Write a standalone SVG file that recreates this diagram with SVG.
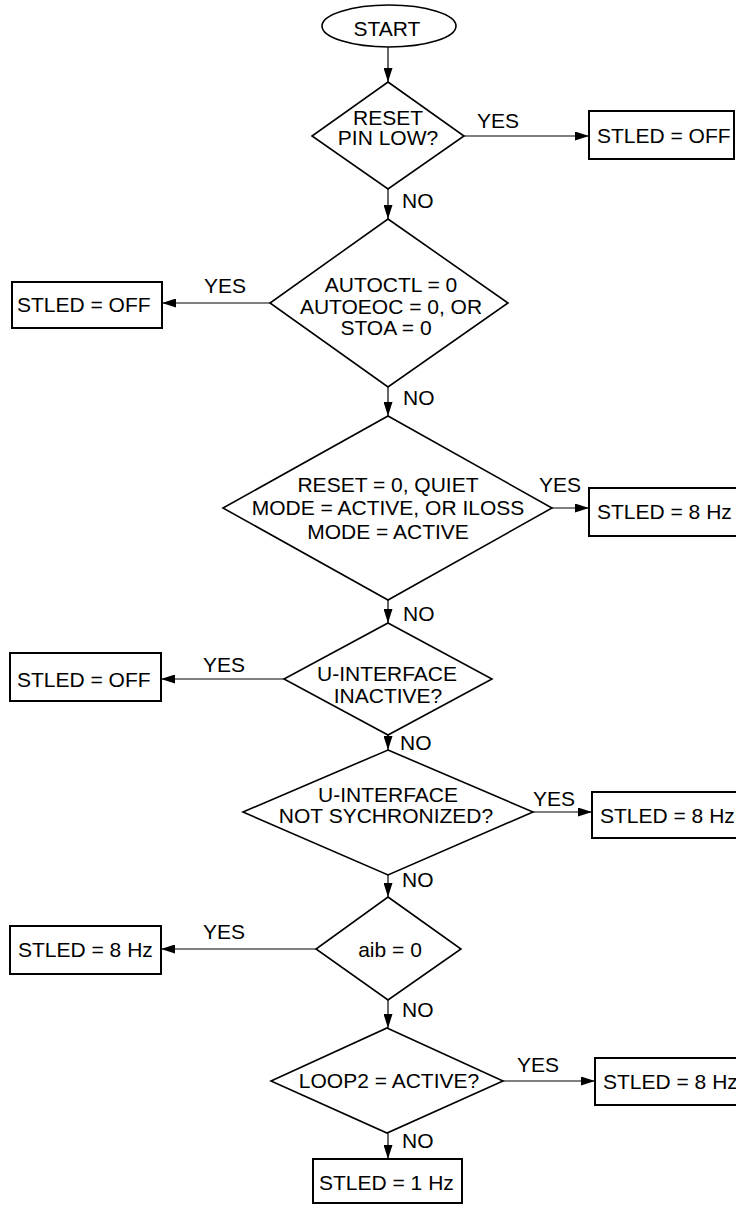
<svg xmlns="http://www.w3.org/2000/svg" width="736" height="1205" viewBox="0 0 736 1205">
<style>
text{font-family:"Liberation Sans",Arial,sans-serif;font-size:21px;fill:#000}
.c{text-anchor:middle}
.shape{fill:#fff;stroke:#000;stroke-width:1.6}
.box{fill:#fff;stroke:#000;stroke-width:2}
.conn line{stroke:#000;stroke-width:1.2}
</style>
<defs>
<marker id="ah" markerUnits="userSpaceOnUse" markerWidth="14" markerHeight="9" refX="14" refY="4.5" orient="auto">
<path d="M0,0 L14,4.5 L0,9 Z" fill="#000"/>
</marker>
</defs>
<g id="connectors" class="conn">
<line x1="388" y1="47" x2="388" y2="82" marker-end="url(#ah)"/>
<line x1="464" y1="136" x2="589" y2="136" marker-end="url(#ah)"/>
<line x1="388" y1="189" x2="388" y2="219" marker-end="url(#ah)"/>
<line x1="270" y1="303" x2="162" y2="303" marker-end="url(#ah)"/>
<line x1="388" y1="387" x2="388" y2="416" marker-end="url(#ah)"/>
<line x1="552" y1="508" x2="589" y2="508" marker-end="url(#ah)"/>
<line x1="388" y1="600" x2="388" y2="623" marker-end="url(#ah)"/>
<line x1="284" y1="679" x2="161" y2="679" marker-end="url(#ah)"/>
<line x1="388" y1="735" x2="388" y2="750" marker-end="url(#ah)"/>
<line x1="533" y1="812" x2="592" y2="812" marker-end="url(#ah)"/>
<line x1="388" y1="875" x2="388" y2="897" marker-end="url(#ah)"/>
<line x1="316" y1="949" x2="161" y2="949" marker-end="url(#ah)"/>
<line x1="388" y1="1000" x2="388" y2="1028" marker-end="url(#ah)"/>
<line x1="503" y1="1081" x2="595" y2="1081" marker-end="url(#ah)"/>
<line x1="388" y1="1133" x2="388" y2="1159" marker-end="url(#ah)"/>
<text x="477" y="128">YES</text>
<text x="402" y="208">NO</text>
<text x="204" y="293">YES</text>
<text x="403" y="405">NO</text>
<text x="539" y="492">YES</text>
<text x="403" y="621">NO</text>
<text x="203" y="672">YES</text>
<text x="400" y="750">NO</text>
<text x="533" y="806">YES</text>
<text x="402" y="887">NO</text>
<text x="203" y="939">YES</text>
<text x="402" y="1017">NO</text>
<text x="517" y="1072">YES</text>
<text x="402" y="1148">NO</text>
</g>
<g id="start">
<ellipse class="shape" cx="389" cy="26" rx="67" ry="21"/>
<text class="c" x="387" y="36">START</text>
</g>
<g id="d1">
<polygon class="shape" points="388,82 464,136 388,189 312,136"/>
<text class="c" x="388" y="125">RESET</text>
<text class="c" x="388" y="145">PIN LOW?</text>
</g>
<g id="b1">
<rect class="box" x="589" y="111" width="145" height="48"/>
<text x="597" y="143">STLED = OFF</text>
</g>
<g id="d2">
<polygon class="shape" points="388,219 508,303 388,387 270,303"/>
<text class="c" x="391" y="292">AUTOCTL = 0</text>
<text class="c" x="391" y="314">AUTOEOC = 0, OR</text>
<text class="c" x="386" y="335">STOA = 0</text>
</g>
<g id="b2">
<rect class="box" x="12" y="282" width="150" height="46"/>
<text x="17" y="312">STLED = OFF</text>
</g>
<g id="d3">
<polygon class="shape" points="388,416 552,508 388,600 223,508"/>
<text class="c" x="388" y="492">RESET = 0, QUIET</text>
<text class="c" x="388" y="515">MODE = ACTIVE, OR ILOSS</text>
<text class="c" x="388" y="539">MODE = ACTIVE</text>
</g>
<g id="b3">
<rect class="box" x="589" y="488" width="160" height="48"/>
<text x="597" y="519">STLED = 8 Hz</text>
</g>
<g id="d4">
<polygon class="shape" points="388,623 492,679 388,735 284,679"/>
<text class="c" x="387" y="681">U-INTERFACE</text>
<text class="c" x="388" y="703">INACTIVE?</text>
</g>
<g id="b4">
<rect class="box" x="10" y="653" width="151" height="48"/>
<text x="17" y="687">STLED = OFF</text>
</g>
<g id="d5">
<polygon class="shape" points="388,750 533,812 388,875 243,812"/>
<text class="c" x="388" y="802">U-INTERFACE</text>
<text class="c" x="386" y="823">NOT SYCHRONIZED?</text>
</g>
<g id="b5">
<rect class="box" x="592" y="792" width="160" height="46"/>
<text x="600" y="823">STLED = 8 Hz</text>
</g>
<g id="d6">
<polygon class="shape" points="388,897 461,949 388,1000 316,949"/>
<text class="c" x="390" y="957">aib = 0</text>
</g>
<g id="b6">
<rect class="box" x="10" y="926" width="151" height="48"/>
<text x="18" y="957">STLED = 8 Hz</text>
</g>
<g id="d7">
<polygon class="shape" points="387,1028 503,1081 387,1133 271,1081"/>
<text class="c" x="389" y="1088">LOOP2 = ACTIVE?</text>
</g>
<g id="b7">
<rect class="box" x="595" y="1058" width="160" height="47"/>
<text x="603" y="1089">STLED = 8 Hz</text>
</g>
<g id="b8">
<rect class="box" x="313" y="1159" width="149" height="44"/>
<text x="319" y="1190">STLED = 1 Hz</text>
</g>
</svg>
